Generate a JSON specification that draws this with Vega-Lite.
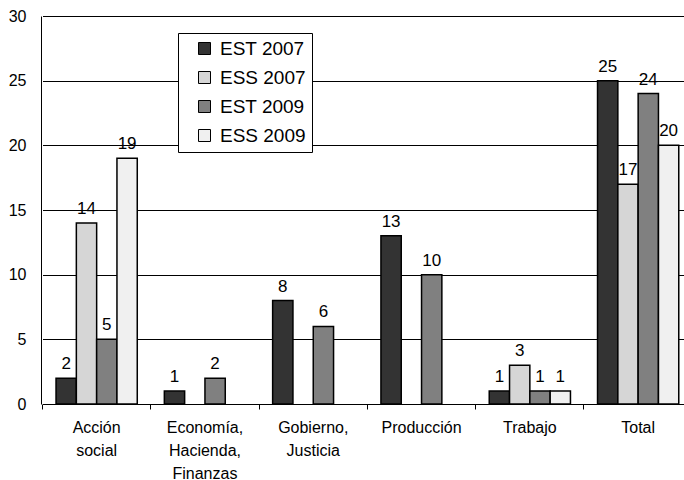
{
  "$schema": "https://vega.github.io/schema/vega-lite/v6.json",
  "width": 643,
  "height": 388,
  "autosize": "none",
  "padding": {"left": 41, "top": 16, "right": 0, "bottom": 76},
  "background": "white",
  "config": {
    "view": {"stroke": null},
    "font": "Liberation Sans, Arial, sans-serif"
  },
  "data": {
    "values": [
      {"cat": "Acción social", "serie": "EST 2007", "v": 2},
      {"cat": "Acción social", "serie": "ESS 2007", "v": 14},
      {"cat": "Acción social", "serie": "EST 2009", "v": 5},
      {"cat": "Acción social", "serie": "ESS 2009", "v": 19},
      {"cat": "Economía, Hacienda, Finanzas", "serie": "EST 2007", "v": 1},
      {"cat": "Economía, Hacienda, Finanzas", "serie": "EST 2009", "v": 2},
      {"cat": "Gobierno, Justicia", "serie": "EST 2007", "v": 8},
      {"cat": "Gobierno, Justicia", "serie": "EST 2009", "v": 6},
      {"cat": "Producción", "serie": "EST 2007", "v": 13},
      {"cat": "Producción", "serie": "EST 2009", "v": 10},
      {"cat": "Trabajo", "serie": "EST 2007", "v": 1},
      {"cat": "Trabajo", "serie": "ESS 2007", "v": 3},
      {"cat": "Trabajo", "serie": "EST 2009", "v": 1},
      {"cat": "Trabajo", "serie": "ESS 2009", "v": 1},
      {"cat": "Total", "serie": "EST 2007", "v": 25},
      {"cat": "Total", "serie": "ESS 2007", "v": 17},
      {"cat": "Total", "serie": "EST 2009", "v": 24},
      {"cat": "Total", "serie": "ESS 2009", "v": 20}
    ]
  },
  "encoding": {
    "x": {
      "field": "cat",
      "type": "nominal",
      "sort": ["Acción social", "Economía, Hacienda, Finanzas", "Gobierno, Justicia", "Producción", "Trabajo", "Total"],
      "scale": {"paddingInner": 0.25, "paddingOuter": 0.125, "range": [1.5, 651.3]}
    },
    "xOffset": {
      "field": "serie",
      "type": "nominal",
      "sort": ["EST 2007", "ESS 2007", "EST 2009", "ESS 2009"],
      "scale": {"domain": ["EST 2007", "ESS 2007", "EST 2009", "ESS 2009"], "paddingInner": 0, "paddingOuter": 0}
    },
    "y": {
      "field": "v",
      "type": "quantitative",
      "scale": {"domain": [0, 30], "nice": false},
      "axis": {
        "title": null,
        "values": [0, 5, 10, 15, 20, 25, 30],
        "grid": true,
        "gridColor": "#000000",
        "gridOpacity": 1,
        "gridWidth": 1,
        "domainColor": "#000000",
        "domainWidth": 1,
        "ticks": false,
        "labelPadding": 15,
        "labelFontSize": 16,
        "labelColor": "#000000"
      }
    }
  },
  "resolve": {"axis": {"x": "independent"}},
  "layer": [
    {
      "mark": {"type": "bar", "stroke": "#000000", "strokeWidth": 1.5},
      "encoding": {
        "x": {
          "field": "cat",
          "type": "nominal",
          "sort": ["Acción social", "Economía, Hacienda, Finanzas", "Gobierno, Justicia", "Producción", "Trabajo", "Total"],
          "axis": {
            "orient": "bottom",
            "title": null,
            "labelAngle": 0,
            "ticks": false,
            "domainColor": "#000000",
            "labelFontSize": 16,
            "labelColor": "#000000",
            "labelPadding": 15,
            "labelLineHeight": 23,
            "labelBaseline": "top",
            "labelExpr": "split(datum.label, ' ')"
          }
        },
        "color": {
          "field": "serie",
          "type": "nominal",
          "sort": ["EST 2007", "ESS 2007", "EST 2009", "ESS 2009"],
          "scale": {
            "domain": ["EST 2007", "ESS 2007", "EST 2009", "ESS 2009"],
            "range": ["#333333", "#d6d6d6", "#808080", "#f0f0f0"]
          },
          "legend": {
            "title": null,
            "orient": "none",
            "legendX": 137,
            "legendY": 17,
            "fillColor": "#ffffff",
            "strokeColor": "#000000",
            "padding": 6,
            "symbolType": "square",
            "symbolSize": 144,
            "symbolOffset": 11,
            "symbolStrokeColor": "#000000",
            "symbolStrokeWidth": 1,
            "labelFontSize": 19,
            "labelColor": "#000000",
            "rowPadding": 9,
            "labelOffset": 6,
            "labelExpr": "datum.label + '  '"
          }
        }
      }
    },
    {
      "mark": {"type": "text", "baseline": "bottom", "dy": -5, "fontSize": 17, "color": "#000000"},
      "encoding": {
        "x": {
          "field": "cat",
          "type": "nominal",
          "sort": ["Acción social", "Economía, Hacienda, Finanzas", "Gobierno, Justicia", "Producción", "Trabajo", "Total"],
          "axis": {
            "orient": "bottom",
            "title": null,
            "labels": false,
            "domain": false,
            "ticks": true,
            "tickColor": "#000000",
            "tickSize": 5,
            "bandPosition": -0.1667
          }
        },
        "text": {"field": "v", "type": "quantitative"}
      }
    }
  ]
}
